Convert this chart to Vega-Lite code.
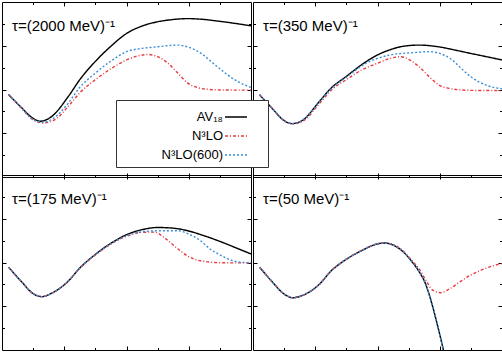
{
  "$schema": "https://vega.github.io/schema/vega-lite/v6.json",
  "padding": {"left": 1, "top": 1, "right": 1, "bottom": 1},
  "data": {"values": [
    {"p":"τ=(2000 MeV)⁻¹","s":"AV18","x":0.21,"y":3.77},{"p":"τ=(2000 MeV)⁻¹","s":"AV18","x":0.64,"y":3.15},{"p":"τ=(2000 MeV)⁻¹","s":"AV18","x":0.96,"y":2.72},{"p":"τ=(2000 MeV)⁻¹","s":"AV18","x":1.23,"y":2.55},{"p":"τ=(2000 MeV)⁻¹","s":"AV18","x":1.6,"y":2.77},{"p":"τ=(2000 MeV)⁻¹","s":"AV18","x":2.13,"y":3.68},{"p":"τ=(2000 MeV)⁻¹","s":"AV18","x":2.5,"y":4.45},{"p":"τ=(2000 MeV)⁻¹","s":"AV18","x":2.99,"y":5.27},{"p":"τ=(2000 MeV)⁻¹","s":"AV18","x":3.5,"y":5.98},{"p":"τ=(2000 MeV)⁻¹","s":"AV18","x":4,"y":6.56},{"p":"τ=(2000 MeV)⁻¹","s":"AV18","x":4.5,"y":6.9},{"p":"τ=(2000 MeV)⁻¹","s":"AV18","x":4.98,"y":7.09},{"p":"τ=(2000 MeV)⁻¹","s":"AV18","x":5.5,"y":7.2},{"p":"τ=(2000 MeV)⁻¹","s":"AV18","x":5.97,"y":7.24},{"p":"τ=(2000 MeV)⁻¹","s":"AV18","x":6.5,"y":7.2},{"p":"τ=(2000 MeV)⁻¹","s":"AV18","x":6.98,"y":7.12},{"p":"τ=(2000 MeV)⁻¹","s":"AV18","x":7.5,"y":7.02},{"p":"τ=(2000 MeV)⁻¹","s":"AV18","x":8,"y":6.91},
    {"p":"τ=(2000 MeV)⁻¹","s":"N3LO","x":0.21,"y":3.77},{"p":"τ=(2000 MeV)⁻¹","s":"N3LO","x":0.64,"y":3.12},{"p":"τ=(2000 MeV)⁻¹","s":"N3LO","x":0.96,"y":2.65},{"p":"τ=(2000 MeV)⁻¹","s":"N3LO","x":1.33,"y":2.47},{"p":"τ=(2000 MeV)⁻¹","s":"N3LO","x":1.7,"y":2.62},{"p":"τ=(2000 MeV)⁻¹","s":"N3LO","x":2.13,"y":3.23},{"p":"τ=(2000 MeV)⁻¹","s":"N3LO","x":2.5,"y":3.85},{"p":"τ=(2000 MeV)⁻¹","s":"N3LO","x":2.99,"y":4.44},{"p":"τ=(2000 MeV)⁻¹","s":"N3LO","x":3.5,"y":4.95},{"p":"τ=(2000 MeV)⁻¹","s":"N3LO","x":4,"y":5.35},{"p":"τ=(2000 MeV)⁻¹","s":"N3LO","x":4.4,"y":5.55},{"p":"τ=(2000 MeV)⁻¹","s":"N3LO","x":4.69,"y":5.6},{"p":"τ=(2000 MeV)⁻¹","s":"N3LO","x":5.0,"y":5.5},{"p":"τ=(2000 MeV)⁻¹","s":"N3LO","x":5.33,"y":5.2},{"p":"τ=(2000 MeV)⁻¹","s":"N3LO","x":5.65,"y":4.75},{"p":"τ=(2000 MeV)⁻¹","s":"N3LO","x":5.97,"y":4.29},{"p":"τ=(2000 MeV)⁻¹","s":"N3LO","x":6.3,"y":4.08},{"p":"τ=(2000 MeV)⁻¹","s":"N3LO","x":6.61,"y":4.01},{"p":"τ=(2000 MeV)⁻¹","s":"N3LO","x":7,"y":3.98},{"p":"τ=(2000 MeV)⁻¹","s":"N3LO","x":8,"y":3.97},
    {"p":"τ=(2000 MeV)⁻¹","s":"N3LO(600)","x":0.21,"y":3.77},{"p":"τ=(2000 MeV)⁻¹","s":"N3LO(600)","x":0.64,"y":3.13},{"p":"τ=(2000 MeV)⁻¹","s":"N3LO(600)","x":0.96,"y":2.67},{"p":"τ=(2000 MeV)⁻¹","s":"N3LO(600)","x":1.3,"y":2.5},{"p":"τ=(2000 MeV)⁻¹","s":"N3LO(600)","x":1.65,"y":2.68},{"p":"τ=(2000 MeV)⁻¹","s":"N3LO(600)","x":2.13,"y":3.38},{"p":"τ=(2000 MeV)⁻¹","s":"N3LO(600)","x":2.5,"y":4.1},{"p":"τ=(2000 MeV)⁻¹","s":"N3LO(600)","x":2.99,"y":4.74},{"p":"τ=(2000 MeV)⁻¹","s":"N3LO(600)","x":3.5,"y":5.3},{"p":"τ=(2000 MeV)⁻¹","s":"N3LO(600)","x":4,"y":5.73},{"p":"τ=(2000 MeV)⁻¹","s":"N3LO(600)","x":4.5,"y":5.88},{"p":"τ=(2000 MeV)⁻¹","s":"N3LO(600)","x":4.98,"y":5.95},{"p":"τ=(2000 MeV)⁻¹","s":"N3LO(600)","x":5.3,"y":6.0},{"p":"τ=(2000 MeV)⁻¹","s":"N3LO(600)","x":5.65,"y":6.03},{"p":"τ=(2000 MeV)⁻¹","s":"N3LO(600)","x":6.0,"y":5.93},{"p":"τ=(2000 MeV)⁻¹","s":"N3LO(600)","x":6.4,"y":5.65},{"p":"τ=(2000 MeV)⁻¹","s":"N3LO(600)","x":6.7,"y":5.3},{"p":"τ=(2000 MeV)⁻¹","s":"N3LO(600)","x":6.98,"y":4.97},{"p":"τ=(2000 MeV)⁻¹","s":"N3LO(600)","x":7.47,"y":4.45},{"p":"τ=(2000 MeV)⁻¹","s":"N3LO(600)","x":8,"y":4.09},

    {"p":"τ=(350 MeV)⁻¹","s":"AV18","x":0.21,"y":3.76},{"p":"τ=(350 MeV)⁻¹","s":"AV18","x":0.64,"y":3.1},{"p":"τ=(350 MeV)⁻¹","s":"AV18","x":0.96,"y":2.62},{"p":"τ=(350 MeV)⁻¹","s":"AV18","x":1.26,"y":2.44},{"p":"τ=(350 MeV)⁻¹","s":"AV18","x":1.6,"y":2.6},{"p":"τ=(350 MeV)⁻¹","s":"AV18","x":2.13,"y":3.45},{"p":"τ=(350 MeV)⁻¹","s":"AV18","x":2.5,"y":4.05},{"p":"τ=(350 MeV)⁻¹","s":"AV18","x":2.99,"y":4.59},{"p":"τ=(350 MeV)⁻¹","s":"AV18","x":3.63,"y":5.27},{"p":"τ=(350 MeV)⁻¹","s":"AV18","x":4,"y":5.58},{"p":"τ=(350 MeV)⁻¹","s":"AV18","x":4.37,"y":5.8},{"p":"τ=(350 MeV)⁻¹","s":"AV18","x":4.8,"y":5.97},{"p":"τ=(350 MeV)⁻¹","s":"AV18","x":5.33,"y":6.03},{"p":"τ=(350 MeV)⁻¹","s":"AV18","x":5.97,"y":5.95},{"p":"τ=(350 MeV)⁻¹","s":"AV18","x":6.5,"y":5.8},{"p":"τ=(350 MeV)⁻¹","s":"AV18","x":6.99,"y":5.65},{"p":"τ=(350 MeV)⁻¹","s":"AV18","x":7.5,"y":5.5},{"p":"τ=(350 MeV)⁻¹","s":"AV18","x":8,"y":5.35},
    {"p":"τ=(350 MeV)⁻¹","s":"N3LO","x":0.21,"y":3.76},{"p":"τ=(350 MeV)⁻¹","s":"N3LO","x":0.64,"y":3.1},{"p":"τ=(350 MeV)⁻¹","s":"N3LO","x":0.96,"y":2.62},{"p":"τ=(350 MeV)⁻¹","s":"N3LO","x":1.28,"y":2.43},{"p":"τ=(350 MeV)⁻¹","s":"N3LO","x":1.65,"y":2.6},{"p":"τ=(350 MeV)⁻¹","s":"N3LO","x":2.13,"y":3.35},{"p":"τ=(350 MeV)⁻¹","s":"N3LO","x":2.5,"y":3.95},{"p":"τ=(350 MeV)⁻¹","s":"N3LO","x":2.99,"y":4.44},{"p":"τ=(350 MeV)⁻¹","s":"N3LO","x":3.5,"y":4.9},{"p":"τ=(350 MeV)⁻¹","s":"N3LO","x":4,"y":5.2},{"p":"τ=(350 MeV)⁻¹","s":"N3LO","x":4.4,"y":5.42},{"p":"τ=(350 MeV)⁻¹","s":"N3LO","x":4.75,"y":5.5},{"p":"τ=(350 MeV)⁻¹","s":"N3LO","x":5.0,"y":5.38},{"p":"τ=(350 MeV)⁻¹","s":"N3LO","x":5.33,"y":5.05},{"p":"τ=(350 MeV)⁻¹","s":"N3LO","x":5.65,"y":4.6},{"p":"τ=(350 MeV)⁻¹","s":"N3LO","x":5.97,"y":4.21},{"p":"τ=(350 MeV)⁻¹","s":"N3LO","x":6.3,"y":4.05},{"p":"τ=(350 MeV)⁻¹","s":"N3LO","x":6.61,"y":3.99},{"p":"τ=(350 MeV)⁻¹","s":"N3LO","x":7,"y":3.96},{"p":"τ=(350 MeV)⁻¹","s":"N3LO","x":8,"y":3.95},
    {"p":"τ=(350 MeV)⁻¹","s":"N3LO(600)","x":0.21,"y":3.76},{"p":"τ=(350 MeV)⁻¹","s":"N3LO(600)","x":0.64,"y":3.1},{"p":"τ=(350 MeV)⁻¹","s":"N3LO(600)","x":0.96,"y":2.62},{"p":"τ=(350 MeV)⁻¹","s":"N3LO(600)","x":1.26,"y":2.44},{"p":"τ=(350 MeV)⁻¹","s":"N3LO(600)","x":1.6,"y":2.6},{"p":"τ=(350 MeV)⁻¹","s":"N3LO(600)","x":2.13,"y":3.43},{"p":"τ=(350 MeV)⁻¹","s":"N3LO(600)","x":2.5,"y":4.02},{"p":"τ=(350 MeV)⁻¹","s":"N3LO(600)","x":2.99,"y":4.55},{"p":"τ=(350 MeV)⁻¹","s":"N3LO(600)","x":3.63,"y":5.2},{"p":"τ=(350 MeV)⁻¹","s":"N3LO(600)","x":4,"y":5.42},{"p":"τ=(350 MeV)⁻¹","s":"N3LO(600)","x":4.4,"y":5.58},{"p":"τ=(350 MeV)⁻¹","s":"N3LO(600)","x":4.8,"y":5.65},{"p":"τ=(350 MeV)⁻¹","s":"N3LO(600)","x":5.3,"y":5.7},{"p":"τ=(350 MeV)⁻¹","s":"N3LO(600)","x":5.65,"y":5.73},{"p":"τ=(350 MeV)⁻¹","s":"N3LO(600)","x":6.0,"y":5.65},{"p":"τ=(350 MeV)⁻¹","s":"N3LO(600)","x":6.4,"y":5.35},{"p":"τ=(350 MeV)⁻¹","s":"N3LO(600)","x":6.7,"y":4.95},{"p":"τ=(350 MeV)⁻¹","s":"N3LO(600)","x":6.99,"y":4.59},{"p":"τ=(350 MeV)⁻¹","s":"N3LO(600)","x":7.47,"y":4.21},{"p":"τ=(350 MeV)⁻¹","s":"N3LO(600)","x":8,"y":4.03},

    {"p":"τ=(175 MeV)⁻¹","s":"AV18","x":0.21,"y":3.79},{"p":"τ=(175 MeV)⁻¹","s":"AV18","x":0.64,"y":3.1},{"p":"τ=(175 MeV)⁻¹","s":"AV18","x":0.96,"y":2.62},{"p":"τ=(175 MeV)⁻¹","s":"AV18","x":1.28,"y":2.44},{"p":"τ=(175 MeV)⁻¹","s":"AV18","x":1.6,"y":2.6},{"p":"τ=(175 MeV)⁻¹","s":"AV18","x":2.13,"y":3.15},{"p":"τ=(175 MeV)⁻¹","s":"AV18","x":2.5,"y":3.75},{"p":"τ=(175 MeV)⁻¹","s":"AV18","x":2.99,"y":4.36},{"p":"τ=(175 MeV)⁻¹","s":"AV18","x":3.5,"y":4.88},{"p":"τ=(175 MeV)⁻¹","s":"AV18","x":4,"y":5.27},{"p":"τ=(175 MeV)⁻¹","s":"AV18","x":4.5,"y":5.5},{"p":"τ=(175 MeV)⁻¹","s":"AV18","x":5.01,"y":5.6},{"p":"τ=(175 MeV)⁻¹","s":"AV18","x":5.5,"y":5.57},{"p":"τ=(175 MeV)⁻¹","s":"AV18","x":5.97,"y":5.45},{"p":"τ=(175 MeV)⁻¹","s":"AV18","x":6.5,"y":5.22},{"p":"τ=(175 MeV)⁻¹","s":"AV18","x":6.99,"y":4.97},{"p":"τ=(175 MeV)⁻¹","s":"AV18","x":7.5,"y":4.68},{"p":"τ=(175 MeV)⁻¹","s":"AV18","x":8,"y":4.39},
    {"p":"τ=(175 MeV)⁻¹","s":"N3LO","x":0.21,"y":3.79},{"p":"τ=(175 MeV)⁻¹","s":"N3LO","x":0.64,"y":3.1},{"p":"τ=(175 MeV)⁻¹","s":"N3LO","x":0.96,"y":2.62},{"p":"τ=(175 MeV)⁻¹","s":"N3LO","x":1.28,"y":2.44},{"p":"τ=(175 MeV)⁻¹","s":"N3LO","x":1.6,"y":2.6},{"p":"τ=(175 MeV)⁻¹","s":"N3LO","x":2.13,"y":3.14},{"p":"τ=(175 MeV)⁻¹","s":"N3LO","x":2.5,"y":3.73},{"p":"τ=(175 MeV)⁻¹","s":"N3LO","x":2.99,"y":4.33},{"p":"τ=(175 MeV)⁻¹","s":"N3LO","x":3.5,"y":4.84},{"p":"τ=(175 MeV)⁻¹","s":"N3LO","x":4,"y":5.2},{"p":"τ=(175 MeV)⁻¹","s":"N3LO","x":4.5,"y":5.38},{"p":"τ=(175 MeV)⁻¹","s":"N3LO","x":4.9,"y":5.39},{"p":"τ=(175 MeV)⁻¹","s":"N3LO","x":5.2,"y":5.15},{"p":"τ=(175 MeV)⁻¹","s":"N3LO","x":5.55,"y":4.74},{"p":"τ=(175 MeV)⁻¹","s":"N3LO","x":5.97,"y":4.29},{"p":"τ=(175 MeV)⁻¹","s":"N3LO","x":6.3,"y":4.1},{"p":"τ=(175 MeV)⁻¹","s":"N3LO","x":6.61,"y":4.03},{"p":"τ=(175 MeV)⁻¹","s":"N3LO","x":7,"y":3.99},{"p":"τ=(175 MeV)⁻¹","s":"N3LO","x":8,"y":3.98},
    {"p":"τ=(175 MeV)⁻¹","s":"N3LO(600)","x":0.21,"y":3.79},{"p":"τ=(175 MeV)⁻¹","s":"N3LO(600)","x":0.64,"y":3.1},{"p":"τ=(175 MeV)⁻¹","s":"N3LO(600)","x":0.96,"y":2.62},{"p":"τ=(175 MeV)⁻¹","s":"N3LO(600)","x":1.28,"y":2.44},{"p":"τ=(175 MeV)⁻¹","s":"N3LO(600)","x":1.6,"y":2.6},{"p":"τ=(175 MeV)⁻¹","s":"N3LO(600)","x":2.13,"y":3.15},{"p":"τ=(175 MeV)⁻¹","s":"N3LO(600)","x":2.5,"y":3.75},{"p":"τ=(175 MeV)⁻¹","s":"N3LO(600)","x":2.99,"y":4.35},{"p":"τ=(175 MeV)⁻¹","s":"N3LO(600)","x":3.5,"y":4.86},{"p":"τ=(175 MeV)⁻¹","s":"N3LO(600)","x":4,"y":5.22},{"p":"τ=(175 MeV)⁻¹","s":"N3LO(600)","x":4.48,"y":5.4},{"p":"τ=(175 MeV)⁻¹","s":"N3LO(600)","x":5.0,"y":5.45},{"p":"τ=(175 MeV)⁻¹","s":"N3LO(600)","x":5.65,"y":5.45},{"p":"τ=(175 MeV)⁻¹","s":"N3LO(600)","x":6.0,"y":5.3},{"p":"τ=(175 MeV)⁻¹","s":"N3LO(600)","x":6.4,"y":4.97},{"p":"τ=(175 MeV)⁻¹","s":"N3LO(600)","x":6.7,"y":4.6},{"p":"τ=(175 MeV)⁻¹","s":"N3LO(600)","x":6.99,"y":4.36},{"p":"τ=(175 MeV)⁻¹","s":"N3LO(600)","x":7.47,"y":4.06},{"p":"τ=(175 MeV)⁻¹","s":"N3LO(600)","x":8,"y":3.98},

    {"p":"τ=(50 MeV)⁻¹","s":"AV18","x":0.21,"y":3.79},{"p":"τ=(50 MeV)⁻¹","s":"AV18","x":0.64,"y":3.08},{"p":"τ=(50 MeV)⁻¹","s":"AV18","x":0.96,"y":2.6},{"p":"τ=(50 MeV)⁻¹","s":"AV18","x":1.28,"y":2.39},{"p":"τ=(50 MeV)⁻¹","s":"AV18","x":1.6,"y":2.5},{"p":"τ=(50 MeV)⁻¹","s":"AV18","x":2.13,"y":3.0},{"p":"τ=(50 MeV)⁻¹","s":"AV18","x":2.5,"y":3.6},{"p":"τ=(50 MeV)⁻¹","s":"AV18","x":2.99,"y":4.14},{"p":"τ=(50 MeV)⁻¹","s":"AV18","x":3.5,"y":4.55},{"p":"τ=(50 MeV)⁻¹","s":"AV18","x":4,"y":4.85},{"p":"τ=(50 MeV)⁻¹","s":"AV18","x":4.21,"y":4.89},{"p":"τ=(50 MeV)⁻¹","s":"AV18","x":4.5,"y":4.8},{"p":"τ=(50 MeV)⁻¹","s":"AV18","x":4.8,"y":4.52},{"p":"τ=(50 MeV)⁻¹","s":"AV18","x":5.1,"y":4.05},{"p":"τ=(50 MeV)⁻¹","s":"AV18","x":5.33,"y":3.6},{"p":"τ=(50 MeV)⁻¹","s":"AV18","x":5.55,"y":3.0},{"p":"τ=(50 MeV)⁻¹","s":"AV18","x":5.75,"y":2.1},{"p":"τ=(50 MeV)⁻¹","s":"AV18","x":5.95,"y":1.0},{"p":"τ=(50 MeV)⁻¹","s":"AV18","x":6.15,"y":-0.2},
    {"p":"τ=(50 MeV)⁻¹","s":"N3LO","x":0.21,"y":3.79},{"p":"τ=(50 MeV)⁻¹","s":"N3LO","x":0.64,"y":3.08},{"p":"τ=(50 MeV)⁻¹","s":"N3LO","x":0.96,"y":2.6},{"p":"τ=(50 MeV)⁻¹","s":"N3LO","x":1.28,"y":2.39},{"p":"τ=(50 MeV)⁻¹","s":"N3LO","x":1.6,"y":2.5},{"p":"τ=(50 MeV)⁻¹","s":"N3LO","x":2.13,"y":3.0},{"p":"τ=(50 MeV)⁻¹","s":"N3LO","x":2.5,"y":3.6},{"p":"τ=(50 MeV)⁻¹","s":"N3LO","x":2.99,"y":4.14},{"p":"τ=(50 MeV)⁻¹","s":"N3LO","x":3.5,"y":4.56},{"p":"τ=(50 MeV)⁻¹","s":"N3LO","x":4,"y":4.86},{"p":"τ=(50 MeV)⁻¹","s":"N3LO","x":4.21,"y":4.9},{"p":"τ=(50 MeV)⁻¹","s":"N3LO","x":4.5,"y":4.82},{"p":"τ=(50 MeV)⁻¹","s":"N3LO","x":4.8,"y":4.56},{"p":"τ=(50 MeV)⁻¹","s":"N3LO","x":5.1,"y":4.1},{"p":"τ=(50 MeV)⁻¹","s":"N3LO","x":5.33,"y":3.72},{"p":"τ=(50 MeV)⁻¹","s":"N3LO","x":5.55,"y":3.2},{"p":"τ=(50 MeV)⁻¹","s":"N3LO","x":5.76,"y":2.75},{"p":"τ=(50 MeV)⁻¹","s":"N3LO","x":6.03,"y":2.62},{"p":"τ=(50 MeV)⁻¹","s":"N3LO","x":6.3,"y":2.78},{"p":"τ=(50 MeV)⁻¹","s":"N3LO","x":6.61,"y":3.08},{"p":"τ=(50 MeV)⁻¹","s":"N3LO","x":6.9,"y":3.35},{"p":"τ=(50 MeV)⁻¹","s":"N3LO","x":7.25,"y":3.6},{"p":"τ=(50 MeV)⁻¹","s":"N3LO","x":7.6,"y":3.8},{"p":"τ=(50 MeV)⁻¹","s":"N3LO","x":8,"y":3.95},
    {"p":"τ=(50 MeV)⁻¹","s":"N3LO(600)","x":0.21,"y":3.79},{"p":"τ=(50 MeV)⁻¹","s":"N3LO(600)","x":0.64,"y":3.08},{"p":"τ=(50 MeV)⁻¹","s":"N3LO(600)","x":0.96,"y":2.6},{"p":"τ=(50 MeV)⁻¹","s":"N3LO(600)","x":1.28,"y":2.39},{"p":"τ=(50 MeV)⁻¹","s":"N3LO(600)","x":1.6,"y":2.5},{"p":"τ=(50 MeV)⁻¹","s":"N3LO(600)","x":2.13,"y":3.0},{"p":"τ=(50 MeV)⁻¹","s":"N3LO(600)","x":2.5,"y":3.6},{"p":"τ=(50 MeV)⁻¹","s":"N3LO(600)","x":2.99,"y":4.14},{"p":"τ=(50 MeV)⁻¹","s":"N3LO(600)","x":3.5,"y":4.55},{"p":"τ=(50 MeV)⁻¹","s":"N3LO(600)","x":4,"y":4.85},{"p":"τ=(50 MeV)⁻¹","s":"N3LO(600)","x":4.21,"y":4.89},{"p":"τ=(50 MeV)⁻¹","s":"N3LO(600)","x":4.5,"y":4.8},{"p":"τ=(50 MeV)⁻¹","s":"N3LO(600)","x":4.8,"y":4.52},{"p":"τ=(50 MeV)⁻¹","s":"N3LO(600)","x":5.1,"y":4.05},{"p":"τ=(50 MeV)⁻¹","s":"N3LO(600)","x":5.33,"y":3.6},{"p":"τ=(50 MeV)⁻¹","s":"N3LO(600)","x":5.55,"y":3.0},{"p":"τ=(50 MeV)⁻¹","s":"N3LO(600)","x":5.75,"y":2.1},{"p":"τ=(50 MeV)⁻¹","s":"N3LO(600)","x":5.95,"y":1.0},{"p":"τ=(50 MeV)⁻¹","s":"N3LO(600)","x":6.15,"y":-0.2}
  ]},
  "facet": {
    "field": "p", "type": "nominal",
    "sort": ["τ=(2000 MeV)⁻¹", "τ=(350 MeV)⁻¹", "τ=(175 MeV)⁻¹", "τ=(50 MeV)⁻¹"],
    "header": {"title": null, "labelExpr": "''", "labelFontSize": 1, "labelPadding": -20, "labelOrient": "top"}
  },
  "columns": 2,
  "spacing": {"row": -4, "column": 0},
  "resolve": {"scale": {"x": "independent", "y": "independent"}},
  "spec": {
    "width": 249,
    "height": 175,
    "layer": [
      {
        "mark": {"type": "line", "interpolate": "monotone", "clip": true, "strokeWidth": 1.4},
        "encoding": {
          "x": {"field": "x", "type": "quantitative", "scale": {"domain": [0, 8], "nice": false, "zero": false},
                "axis": {"orient": "bottom", "title": null, "labels": false, "domain": false, "grid": false, "values": [1,2,3,4,5,6,7],
                         "tickColor": "black", "tickWidth": 1, "minExtent": 0, "maxExtent": 0,
                         "tickSize": {"condition": {"test": "datum.value % 2 === 0", "value": -4}, "value": -2.5}}},
          "y": {"field": "y", "type": "quantitative", "scale": {"domain": [0, 8], "nice": false, "zero": false},
                "axis": {"orient": "left", "title": null, "labels": false, "domain": false, "grid": false, "values": [1,2,3,4,5,6,7],
                         "tickColor": "black", "tickWidth": 1, "minExtent": 0, "maxExtent": 0,
                         "tickSize": {"condition": {"test": "datum.value % 2 === 0", "value": -4}, "value": -2.5}}},
          "color": {"field": "s", "type": "nominal",
                    "scale": {"domain": ["AV18", "N3LO", "N3LO(600)"], "range": ["#000000", "#e8383d", "#3b8ed6"]},
                    "legend": {"orient": "none", "legendX": 114, "legendY": 98, "title": ".", "titleOrient": "right", "titlePadding": 10,
                               "titleColor": "white", "titleFontSize": 10,
                               "symbolType": "stroke", "symbolSize": 484, "symbolStrokeWidth": 1.4,
                               "labelAlign": "right", "labelOffset": -25, "symbolOffset": 103,
                               "labelFont": "Liberation Sans", "labelFontSize": 13, "labelColor": "black",
                               "padding": 5, "rowPadding": -6, "strokeColor": "#333333", "fillColor": "white",
                               "labelExpr": "datum.label === 'AV18' ? 'AV₁₈' : datum.label === 'N3LO' ? 'N³LO' : 'N³LO(600)'"}},
          "strokeDash": {"field": "s", "type": "nominal",
                    "scale": {"domain": ["AV18", "N3LO", "N3LO(600)"], "range": [[1, 0], [3, 2, 1, 2], [2, 2]]},
                    "legend": {"orient": "none", "legendX": 114, "legendY": 98, "title": ".", "titleOrient": "right", "titlePadding": 10,
                               "titleColor": "white", "titleFontSize": 10,
                               "symbolType": "stroke", "symbolSize": 484, "symbolStrokeWidth": 1.4,
                               "labelAlign": "right", "labelOffset": -25, "symbolOffset": 103,
                               "labelFont": "Liberation Sans", "labelFontSize": 13, "labelColor": "black",
                               "padding": 5, "rowPadding": -6, "strokeColor": "#333333", "fillColor": "white",
                               "labelExpr": "datum.label === 'AV18' ? 'AV₁₈' : datum.label === 'N3LO' ? 'N³LO' : 'N³LO(600)'"}}
        }
      },
      {
        "mark": {"type": "line", "strokeOpacity": 0},
        "encoding": {
          "x": {"field": "x", "type": "quantitative", "scale": {"domain": [0, 8], "nice": false, "zero": false},
                "axis": {"orient": "top", "title": null, "labels": false, "domain": false, "grid": false, "values": [1,2,3,4,5,6,7],
                         "tickColor": "black", "tickWidth": 1, "minExtent": 0, "maxExtent": 0,
                         "tickSize": {"condition": {"test": "datum.value % 2 === 0", "value": -4}, "value": -2.5}}},
          "y": {"field": "y", "type": "quantitative", "scale": {"domain": [0, 8], "nice": false, "zero": false},
                "axis": {"orient": "right", "title": null, "labels": false, "domain": false, "grid": false, "values": [1,2,3,4,5,6,7],
                         "tickColor": "black", "tickWidth": 1, "minExtent": 0, "maxExtent": 0,
                         "tickSize": {"condition": {"test": "datum.value % 2 === 0", "value": -4}, "value": -2.5}}}
        }
      },
      {
        "transform": [{"aggregate": [{"op": "count", "as": "n"}], "groupby": ["p"]}],
        "mark": {"type": "text", "align": "left", "baseline": "alphabetic", "font": "Liberation Sans", "fontSize": 15, "color": "black"},
        "encoding": {
          "x": {"datum": 0.32, "type": "quantitative", "axis": null},
          "y": {"datum": 6.68, "type": "quantitative", "axis": null},
          "text": {"field": "p", "type": "nominal"}
        }
      }
    ],
    "resolve": {"axis": {"x": "independent", "y": "independent"}}
  },
  "config": {
    "view": {"stroke": "#000000", "strokeWidth": 1},
    "background": "white"
  }
}
